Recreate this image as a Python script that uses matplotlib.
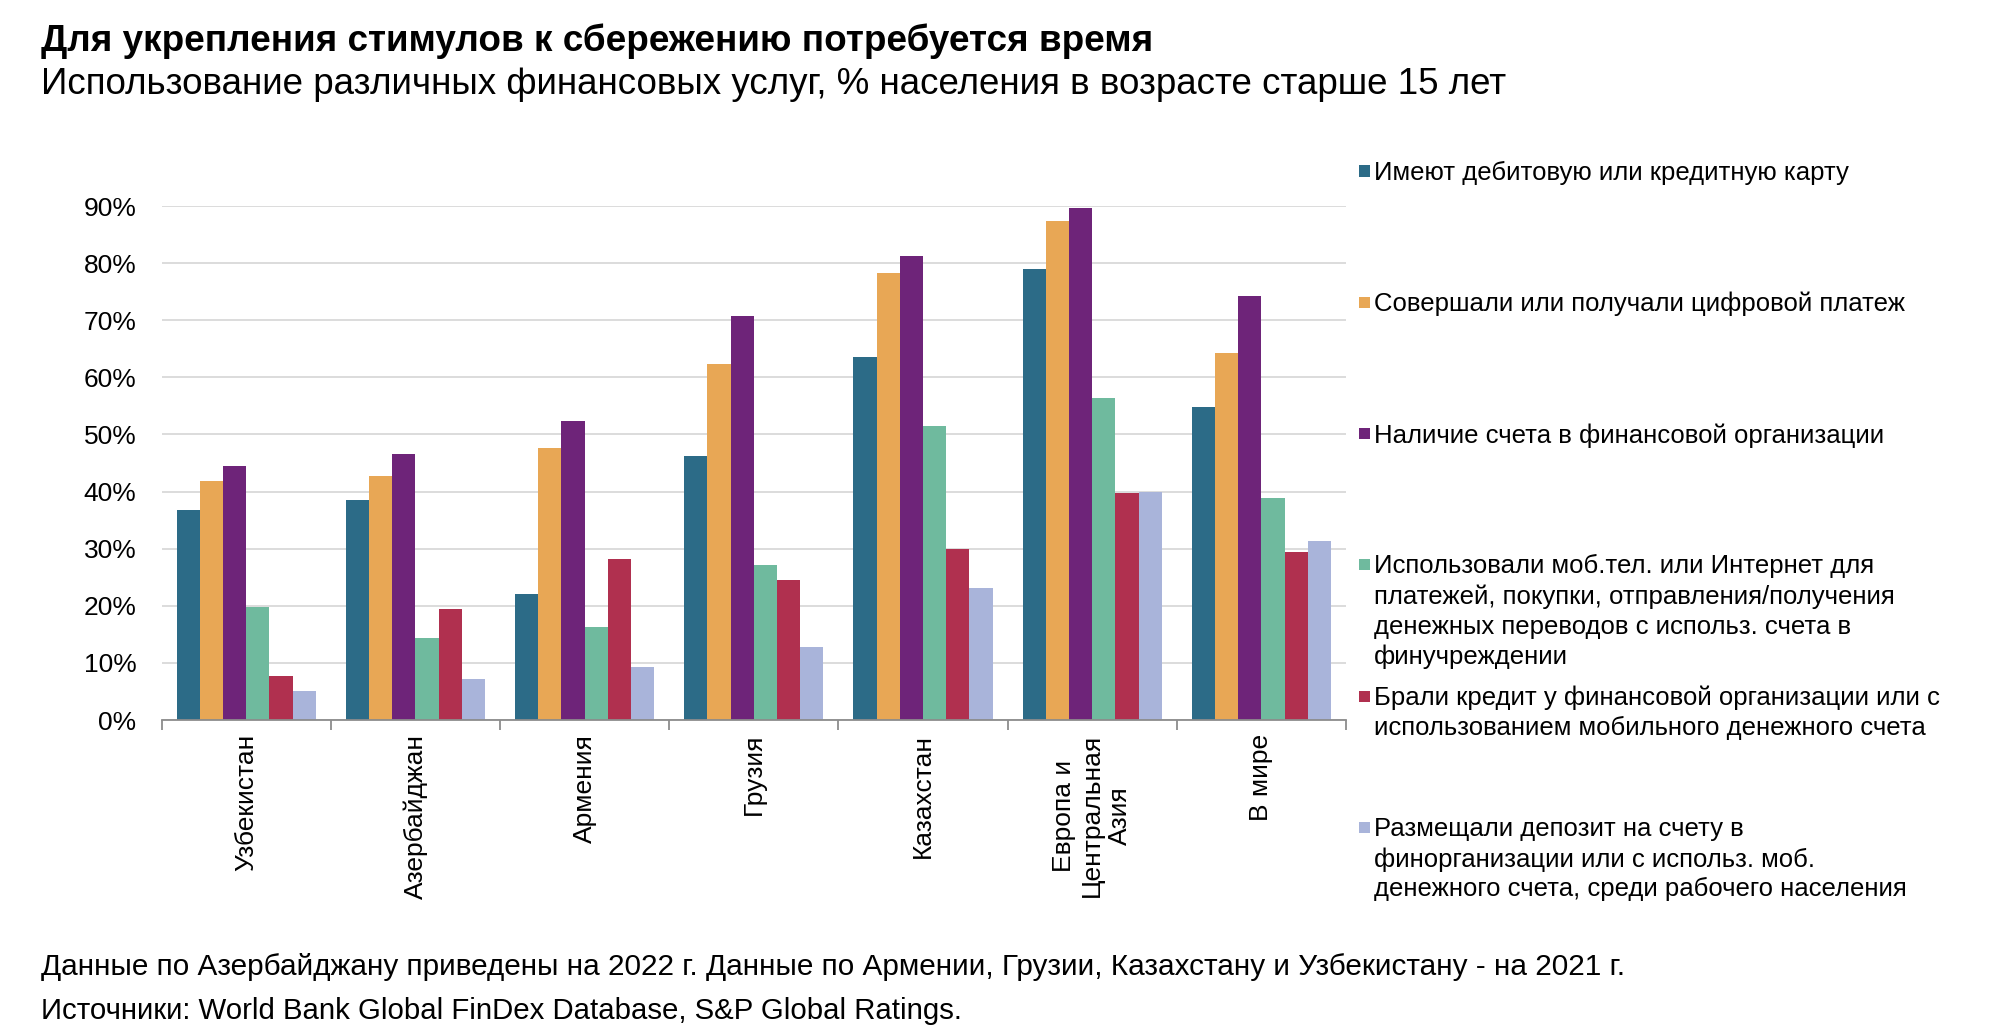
import numpy as np
import matplotlib
matplotlib.use("Agg")
import matplotlib.pyplot as plt
from matplotlib.patches import Rectangle
from matplotlib.ticker import FuncFormatter, FixedLocator

plt.rcParams.update({
    "font.family": ["Liberation Sans", "DejaVu Sans"],
    "font.size": 19,
})

# Data (% of population aged 15+)
countries = ["Узбекистан", "Азербайджан", "Армения", "Грузия", "Казахстан",
             "Европа и\nЦентральная\nАзия", "В мире"]
debit_card = [36.7, 38.5, 22.1, 46.2, 63.5, 78.9, 54.8]
digital_pay = [41.9, 42.8, 47.6, 62.4, 78.2, 87.4, 64.3]
account = [44.4, 46.5, 52.3, 70.7, 81.2, 89.6, 74.2]
mobile_internet = [19.8, 14.4, 16.2, 27.2, 51.4, 56.3, 38.8]
borrowed = [7.7, 19.4, 28.2, 24.5, 30.0, 39.8, 29.4]
deposit = [5.0, 7.2, 9.3, 12.7, 23.2, 40.0, 31.4]

series_labels = [
    "Имеют дебитовую или кредитную карту",
    "Совершали или получали цифровой платеж",
    "Наличие счета в финансовой организации",
    "Использовали моб.тел. или Интернет для\nплатежей, покупки, отправления/получения\nденежных переводов с использ. счета в\nфинучреждении",
    "Брали кредит у финансовой организации или с\nиспользованием мобильного денежного счета",
    "Размещали депозит на счету в\nфинорганизации или с использ. моб.\nденежного счета, среди рабочего населения",
]
series = [debit_card, digital_pay, account, mobile_internet, borrowed, deposit]
colors = ["#2C6B87", "#E8A755", "#6E2479", "#6FBA9E", "#B0304F", "#A9B4DA"]

title = "Для укрепления стимулов к сбережению потребуется время"
subtitle = "Использование различных финансовых услуг, % населения в возрасте старше 15 лет"
note = ("Данные по Азербайджану приведены на 2022 г. Данные по Армении, Грузии, "
        "Казахстану и Узбекистану - на 2021 г.")
source = "Источники: World Bank Global FinDex Database, S&P Global Ratings."

W, H = 1995, 1030
fig = plt.figure(figsize=(W / 100, H / 100), dpi=100)
ax = fig.add_axes([161.6 / W, 1 - 720 / H, (1346 - 161.6) / W, (720 - 206) / H])

x = np.arange(len(countries))
bw = 0.137
for i, (vals, c) in enumerate(zip(series, colors)):
    ax.bar(x + (i - 2.5) * bw, np.array(vals) / 100, width=bw, color=c, zorder=3)

ax.set_xlim(-0.5, len(countries) - 0.5)
ax.set_ylim(0, 0.9)
ax.set_yticks(np.arange(0, 0.91, 0.1))
ax.yaxis.set_major_formatter(FuncFormatter(lambda v, p: f"{v * 100:.0f}%"))
ax.tick_params(axis="y", length=0, pad=18, labelsize=19)
ax.grid(axis="y", color="#D9D9D9", lw=1.3, zorder=0)

# category boundaries as ticks, labels at the centres
ax.xaxis.set_major_locator(FixedLocator(np.arange(-0.5, len(countries), 1.0)))
ax.xaxis.set_minor_locator(FixedLocator(x))
ax.set_xticklabels([])
ax.set_xticklabels(countries, minor=True, rotation=90, ha="center", va="top",
                   multialignment="center", fontsize=19, linespacing=1.2)
ax.tick_params(axis="x", which="major", length=7, color="#8C8C8C", width=1.3)
ax.tick_params(axis="x", which="minor", length=0, pad=10)

for s in ["left", "right", "top"]:
    ax.spines[s].set_visible(False)
ax.spines["bottom"].set_color("#8C8C8C")
ax.spines["bottom"].set_linewidth(1.3)
ax.spines["bottom"].set_zorder(4)

# legend drawn by hand, first lines evenly spaced as in the original
leg_x, y0, dy = 1374, 170.5, 131.3
for i, (lab, c) in enumerate(zip(series_labels, colors)):
    yc = y0 + i * dy
    fig.text(leg_x / W, 1 - (yc - 10) / H, lab, va="top", ha="left",
             fontsize=18.5, linespacing=1.31)
    fig.add_artist(Rectangle((1359 / W, 1 - (yc + 6) / H), 11 / W, 11 / H,
                             transform=fig.transFigure, color=c, lw=0))

fig.text(41 / W, 1 - 41 / H, title, fontsize=26.6, fontweight="bold", va="center")
fig.text(41 / W, 1 - 84 / H, subtitle, fontsize=26.5, va="center")
fig.text(41 / W, 1 - 967 / H, note, fontsize=21.4, va="center")
fig.text(41 / W, 1 - 1011 / H, source, fontsize=21.2, va="center")

fig.savefig("out.png", dpi=100)
